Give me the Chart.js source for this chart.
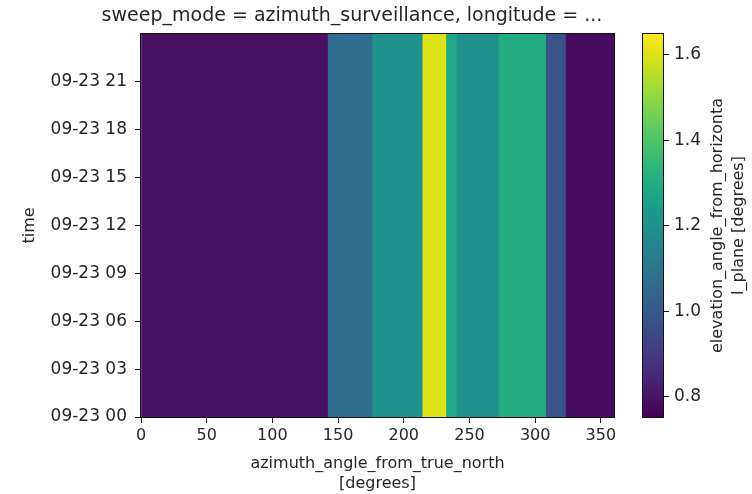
<!DOCTYPE html>
<html>
<head>
<meta charset="utf-8">
<script src="https://cdn.jsdelivr.net/npm/chart.js@4/dist/chart.umd.min.js"></script>
<style>
  html, body { margin: 0; padding: 0; background: #fff; }
  #wrap { position: relative; width: 752px; height: 494px; }
  #main { position: absolute; left: 0; top: 0; }
  #cbar { position: absolute; left: 600px; top: 0; }
</style>
</head>
<body>
<div id="wrap">
  <canvas id="main" width="705" height="494"></canvas>
  <canvas id="cbar" width="152" height="494"></canvas>
</div>
<script>
// azimuth band edges (degrees) and the elevation angle in each band
const azimuthEdges = [0, 142, 176, 214, 232, 240, 272, 308, 323, 360];
const elevationValues = [0.79, 1.07, 1.2, 1.6, 1.29, 1.2, 1.3, 0.98, 0.78];

const timeTicks = [0, 3, 6, 9, 12, 15, 18, 21];
const timeLabels = ['09-23 00', '09-23 03', '09-23 06', '09-23 09', '09-23 12', '09-23 15', '09-23 18', '09-23 21'];
const azimuthTicks = [0, 50, 100, 150, 200, 250, 300, 350];
const colorbarTicks = [0.8, 1.0, 1.2, 1.4, 1.6];

const vmin = 0.752, vmax = 1.649;

const viridis = ['#440154', '#471365', '#482475', '#463480', '#414487', '#3b528b', '#355f8d', '#2f6c8e',
  '#2a788e', '#25848e', '#21918c', '#1e9c89', '#22a884', '#2fb47c', '#44bf70', '#5ec962',
  '#7ad151', '#9bd93c', '#bddf26', '#dfe318', '#fde725'];

function hexToRgb(h) {
  return [parseInt(h.substr(1, 2), 16), parseInt(h.substr(3, 2), 16), parseInt(h.substr(5, 2), 16)];
}

function colorFor(v) {
  let t = (v - vmin) / (vmax - vmin);
  t = Math.max(0, Math.min(1, t));
  const pos = t * (viridis.length - 1);
  const i = Math.min(Math.floor(pos), viridis.length - 2);
  const f = pos - i;
  const a = hexToRgb(viridis[i]), b = hexToRgb(viridis[i + 1]);
  const c = a.map((x, k) => Math.round(x + (b[k] - x) * f));
  return `rgb(${c[0]},${c[1]},${c[2]})`;
}

const textColor = '#262626';
const font = { family: 'DejaVu Sans', size: 16 };

const frame = {
  id: 'frame',
  afterDraw(chart) {
    const a = chart.chartArea, ctx = chart.ctx;
    ctx.save();
    ctx.strokeStyle = '#111';
    ctx.lineWidth = 1;
    ctx.strokeRect(Math.round(a.left) - 0.5, Math.round(a.top) - 0.5,
      Math.round(a.right - a.left) + 1, Math.round(a.bottom - a.top) + 1);
    ctx.restore();
  }
};

const heading = {
  id: 'heading',
  afterDraw(chart) {
    const ctx = chart.ctx;
    ctx.save();
    ctx.fillStyle = textColor;
    ctx.font = '19px "DejaVu Sans"';
    ctx.textAlign = 'center';
    ctx.textBaseline = 'middle';
    ctx.fillText('sweep_mode = azimuth_surveillance, longitude = ...', 352, 16);
    ctx.restore();
  }
};

const bands = elevationValues.map((v, i) => ({
  label: 'band ' + i,
  data: [[azimuthEdges[i], azimuthEdges[i + 1]]],
  backgroundColor: colorFor(v),
  borderColor: colorFor(v),
  borderWidth: 0,
  borderSkipped: false,
  grouped: false,
  barPercentage: 1,
  categoryPercentage: 1
}));

new Chart(document.getElementById('main'), {
  type: 'bar',
  data: { labels: ['09-23'], datasets: bands },
  options: {
    indexAxis: 'y',
    responsive: false,
    animation: false,
    layout: { padding: { left: 0, right: 91, top: 34, bottom: 0 } },
    plugins: {
      legend: { display: false },
      tooltip: { enabled: false }
    },
    scales: {
      x: {
        type: 'linear',
        min: 0, max: 360,
        offset: false,
        afterBuildTicks: axis => { axis.ticks = azimuthTicks.map(v => ({ value: v })); },
        afterFit: axis => { axis.height = 77; },
        grid: { drawOnChartArea: false, drawTicks: true, tickLength: 6, tickColor: '#111', offset: false },
        border: { display: false },
        ticks: { color: textColor, font: font, padding: 3, maxRotation: 0 },
        title: {
          display: true,
          text: ['azimuth_angle_from_true_north', '[degrees]'],
          color: textColor, font: font,
          padding: { top: 0, bottom: 1 }
        }
      },
      y: { type: 'category', display: false, offset: true },
      yTime: {
        type: 'linear', axis: 'y', position: 'left',
        min: 0, max: 24,
        offset: false,
        afterBuildTicks: axis => { axis.ticks = timeTicks.map(v => ({ value: v })); },
        afterFit: axis => { axis.width = 141; },
        grid: { drawOnChartArea: false, drawTicks: true, tickLength: 6, tickColor: '#111', offset: false },
        border: { display: false },
        ticks: {
          color: textColor, font: { family: 'DejaVu Sans', size: 17 }, padding: 8,
          callback: v => timeLabels[timeTicks.indexOf(v)]
        },
        title: {
          display: true, text: 'time', color: textColor, font: font,
          padding: { top: 20, bottom: 0 }
        }
      }
    }
  },
  plugins: [frame, heading]
});

// colorbar: one floating bar from vmin to vmax filled with the colormap
const cbarTitle = {
  id: 'cbarTitle',
  afterDraw(chart) {
    const ctx = chart.ctx, a = chart.chartArea;
    const cy = (a.top + a.bottom) / 2;
    ctx.save();
    ctx.fillStyle = textColor;
    ctx.font = '16px "DejaVu Sans"';
    ctx.textAlign = 'center';
    ctx.textBaseline = 'middle';
    ctx.translate(118, cy);
    ctx.rotate(-Math.PI / 2);
    ctx.fillText('elevation_angle_from_horizonta', 0, 0);
    ctx.fillText('l_plane [degrees]', 0, 21);
    ctx.restore();
  }
};

new Chart(document.getElementById('cbar'), {
  type: 'bar',
  data: {
    labels: ['cbar'],
    datasets: [{
      data: [[vmin, vmax]],
      backgroundColor: ctx => {
        const chart = ctx.chart, a = chart.chartArea;
        if (!a) return null;
        const ys = chart.scales.y;
        const g = chart.ctx.createLinearGradient(0, ys.getPixelForValue(vmin), 0, ys.getPixelForValue(vmax));
        viridis.forEach((c, i) => g.addColorStop(i / (viridis.length - 1), c));
        return g;
      },
      borderWidth: 0,
      barPercentage: 1,
      categoryPercentage: 1
    }]
  },
  options: {
    responsive: false,
    animation: false,
    layout: { padding: { left: 43, right: 0, top: 34, bottom: 77 } },
    plugins: { legend: { display: false }, tooltip: { enabled: false } },
    scales: {
      x: { type: 'category', display: false, offset: true },
      y: {
        type: 'linear', position: 'right',
        min: vmin, max: vmax,
        afterBuildTicks: axis => { axis.ticks = colorbarTicks.map(v => ({ value: v })); },
        afterFit: axis => { axis.width = 89; },
        grid: { drawOnChartArea: false, drawTicks: true, tickLength: 6, tickColor: '#111' },
        border: { display: false },
        ticks: { color: textColor, font: { family: 'DejaVu Sans', size: 17 }, padding: 5, callback: v => v.toFixed(1) }
      }
    }
  },
  plugins: [frame, cbarTitle]
});
</script>
</body>
</html>
